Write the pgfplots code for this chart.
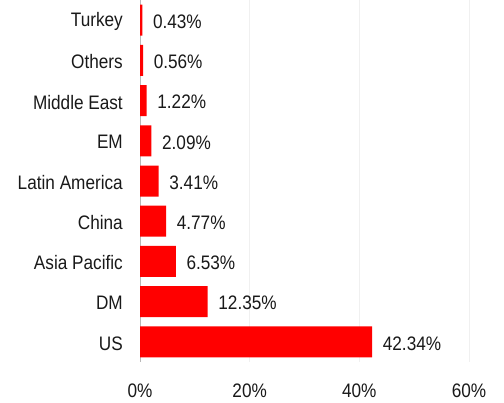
\documentclass[border=0pt]{standalone}
\usepackage{fontspec}
\setmainfont{Liberation Sans}[FakeStretch=0.88]
\usepackage{pgfplots}
\pgfplotsset{compat=1.18}
\definecolor{barred}{RGB}{255,0,0}
\begin{document}
\begin{tikzpicture}
\useasboundingbox (0,0) rectangle (504bp,403bp);
\begin{axis}[
  at={(140bp,41bp)}, anchor=south west,
  scale only axis,
  width=329bp, height=362bp,
  xbar, bar width=31bp,
  xmin=0, xmax=60, ymin=-0.5, ymax=8.5,
  xtick={0,20,40,60},
  xticklabel={\pgfmathprintnumber{\tick}\%},
  ytick={0,...,8},
  yticklabels={US,DM,Asia Pacific,China,Latin America,EM,Middle East,Others,Turkey},
  major tick length=0pt,
  axis x line*=bottom, x axis line style={draw=none},
  axis y line*=left, y axis line style={draw=black!28, line width=0.8pt},
  xmajorgrids, grid style={draw=black!6, line width=0.8pt},
  /pgf/number format/assume math mode=true,
  every tick label/.append style={font=\fontsize{19.6}{23}\selectfont, text=black!90},
  yticklabel style={anchor=east, inner sep=0pt, xshift=-17bp, yshift=-1.5bp},
  xticklabel style={anchor=north, inner sep=0pt, yshift=-22bp},
  nodes near coords={\pgfmathprintnumber[fixed,fixed zerofill,precision=2]{\pgfplotspointmeta}\%},
  nodes near coords style={anchor=west, inner sep=0pt, xshift=10.5bp, yshift=-1.5bp, font=\fontsize{19.6}{23}\selectfont, text=black!90},
  point meta=x,
]
\addplot[fill=barred, draw=none] coordinates {
  (42.34,0) (12.35,1) (6.53,2) (4.77,3) (3.41,4) (2.09,5) (1.22,6) (0.56,7) (0.43,8)
};
\end{axis}
\end{tikzpicture}
\end{document}
